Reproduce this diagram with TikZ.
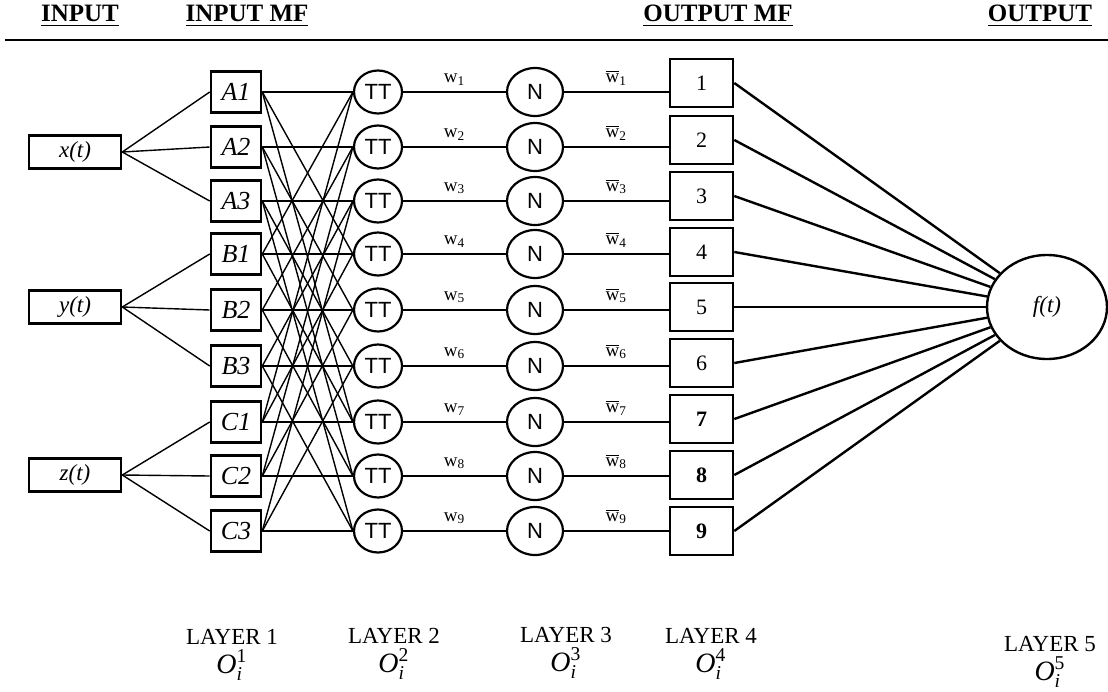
\documentclass[tikz,border=0pt]{standalone}
\usepackage{amsmath}
\usepackage{fontspec}
\setmainfont{Liberation Serif}
\setsansfont{Liberation Sans}
\usepackage{tikz}
\usetikzlibrary{calc,shapes.geometric}

\newcommand{\wbar}[1]{$\overline{\mbox{w}}$\textsubscript{#1}}
\newcommand{\olay}[1]{$\text{\textit{O}}^{\text{#1}}_{\text{\textit{i}}}$}

\tikzset{
  link/.style={line width=0.7pt},
  rowlink/.style={line width=0.9pt},
  header/.style={font=\fontsize{12.5}{14}\selectfont\bfseries},
  inbox/.style={draw, line width=1.3pt, minimum width=46pt, minimum height=16.5pt, inner sep=0pt, font=\fontsize{11.5}{12}\selectfont\itshape},
  mfbox/.style={draw, line width=1.3pt, minimum width=25pt, minimum height=20.5pt, inner sep=0pt, font=\fontsize{13}{14}\selectfont\itshape},
  ttnode/.style={draw, ellipse, line width=1.1pt, minimum width=24pt, minimum height=21.5pt, inner sep=0pt, font=\sffamily\fontsize{11}{12}\selectfont},
  nnode/.style={draw, ellipse, line width=1.1pt, minimum width=28pt, minimum height=24pt, inner sep=0pt, font=\sffamily\fontsize{11}{12}\selectfont},
  outbox/.style={draw, line width=1.3pt, minimum width=31.5pt, minimum height=24pt, inner sep=0pt, font=\fontsize{11}{12}\selectfont},
  fnode/.style={draw, ellipse, line width=1.2pt, minimum width=60pt, minimum height=52pt, inner sep=0pt, font=\fontsize{11.5}{12}\selectfont\itshape},
  wlab/.style={above=2pt, inner sep=1pt, font=\fontsize{9.5}{10}\selectfont},
  layerlab/.style={font=\fontsize{11.5}{13}\selectfont},
  olab/.style={font=\fontsize{14}{15}\selectfont}
}

\begin{document}
\begin{tikzpicture}[x=0.5pt,y=-0.5pt]
\useasboundingbox (0,0) rectangle (1108,691);

\node[header] (hIn) at (80,16) {\underline{INPUT}};
\node[header] (hMf) at (247,16) {\underline{INPUT MF}};
\node[header] (hOmf) at (718,16) {\underline{OUTPUT MF}};
\node[header] (hOut) at (1040,16) {\underline{OUTPUT}};
\draw[line width=1.2pt] (5,40) -- (1108,40);

\foreach \name/\lab/\y in {xin/x(t)/152,yin/y(t)/307,zin/z(t)/475}
{
    \node[inbox] (\name) at (75,\y) {\lab};
}

\foreach \k/\lab/\y in {1/A1/92,2/A2/147,3/A3/201,4/B1/254,5/B2/310,6/B3/366,7/C1/422,8/C2/476,9/C3/531}
{
    \node[mfbox] (mf\k) at (236,\y) {\lab};
    \node[ttnode] (tt\k) at (378,\y) {TT};
    \node[nnode] (n\k) at (535,\y) {N};
}

\foreach \k/\y/\lab in {1/83/1,2/140/2,3/196/3,4/252/4,5/307/5,6/363/6,7/419/\textbf{7},8/475/\textbf{8},9/531/\textbf{9}}
{
    \node[outbox] (o\k) at (701.5,\y) {\lab};
}

\node[fnode] (f) at (1047,307) {f(t)};

\foreach \s/\t in {xin/mf1,xin/mf2,xin/mf3,yin/mf4,yin/mf5,yin/mf6,zin/mf7,zin/mf8,zin/mf9}
{
    \draw[link] (\s.east) -- (\t.west);
}

\foreach \r in {1,...,9}
  \foreach \d in {0,3,6}
  {
    \pgfmathtruncatemacro{\c}{mod(\r-1,3)+1+\d}
    \draw[link] (mf\r.east) -- (tt\c.west);
  }

\foreach \k in {1,...,9}
{
    \draw[rowlink] (tt\k) -- (n\k) node[wlab, midway] (w\k) {w\textsubscript{\k}};
    \draw[rowlink] (n\k) -- (n\k.east -| o\k.west) node[wlab, midway] (wb\k) {\wbar{\k}};
    \draw[line width=1.2pt] (o\k.east) -- (f);
}

\foreach \k/\x/\y in {1/232/637,2/394/636,3/566/635,4/711/636,5/1050/644}
{
    \node[layerlab] (lay\k) at (\x,\y) {LAYER \k};
    \node[olab] (ol\k) at (\x,\y+28) {\olay{\k}};
}
\end{tikzpicture}
\end{document}
